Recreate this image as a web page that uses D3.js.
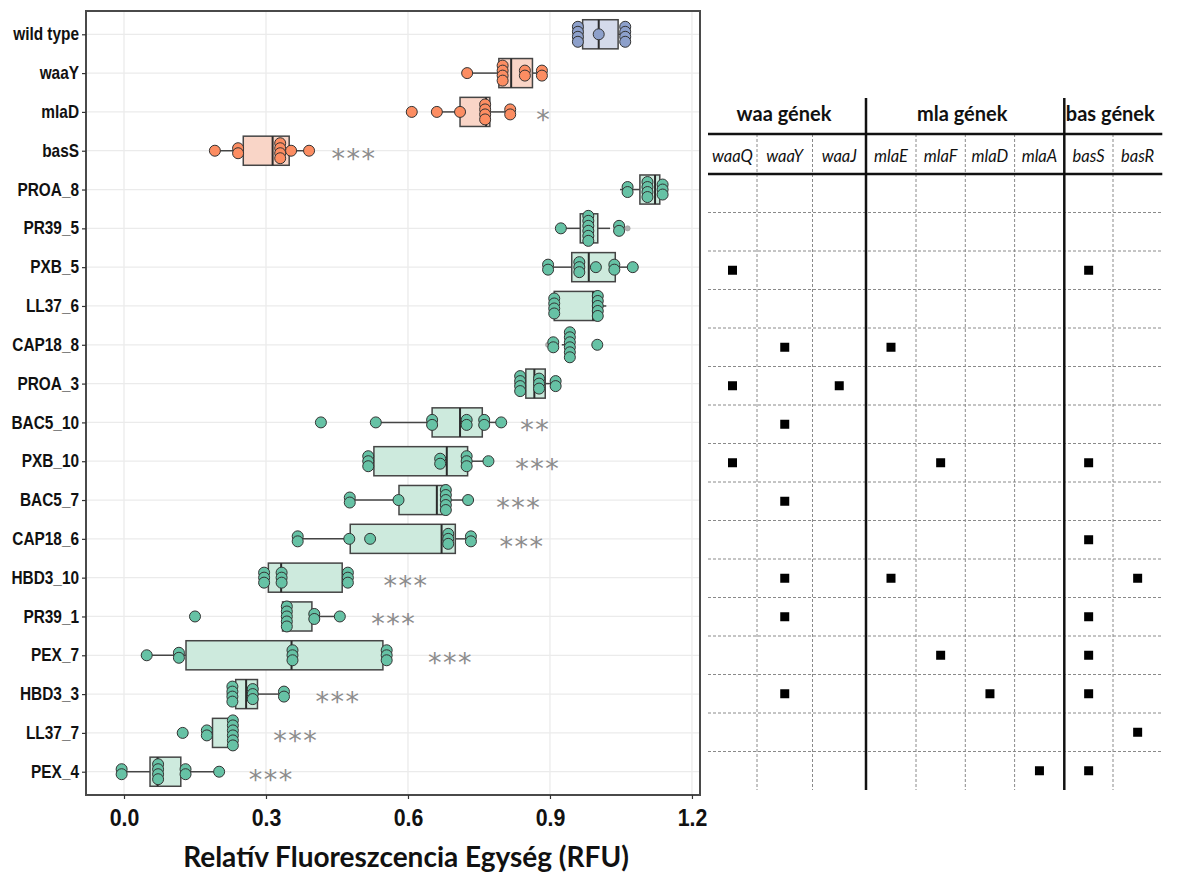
<!DOCTYPE html>
<html>
<head>
<meta charset="utf-8">
<script src="https://cdn.jsdelivr.net/npm/d3@7"></script>
<style>
  body { margin: 0; background: #fff; }
  svg { display: block; }
</style>
</head>
<body>
<div id="chart"></div>
<script>
// adatok (RFU értékek)
const categories = ["wild type", "waaY", "mlaD", "basS", "PROA_8", "PR39_5", "PXB_5", "LL37_6", "CAP18_8", "PROA_3",
  "BAC5_10", "PXB_10", "BAC5_7", "CAP18_6", "HBD3_10", "PR39_1", "PEX_7", "HBD3_3", "LL37_7", "PEX_4"];
const groups = ["wt", "mut", "mut", "mut", "evo", "evo", "evo", "evo", "evo", "evo",
  "evo", "evo", "evo", "evo", "evo", "evo", "evo", "evo", "evo", "evo"];

const q1 =        [0.969, 0.792, 0.710, 0.252, 1.090, 0.964, 0.946, 0.909, 0.938, 0.849, 0.651, 0.528, 0.581, 0.478, 0.305, 0.335, 0.131, 0.236, 0.187, 0.055];
const median =    [1.003, 0.818, 0.765, 0.314, 1.122, 0.978, 0.982, 0.991, 0.942, 0.867, 0.710, 0.682, 0.661, 0.671, 0.332, 0.342, 0.354, 0.258, 0.228, 0.071];
const q3 =        [1.044, 0.863, 0.773, 0.349, 1.132, 1.001, 1.038, 1.000, 0.946, 0.890, 0.757, 0.726, 0.682, 0.700, 0.461, 0.397, 0.547, 0.282, 0.230, 0.120];
const whiskerLo = [0.950, 0.725, 0.661, 0.192, 1.048, 0.923, 0.896, 0.909, 0.925, 0.825, 0.532, 0.528, 0.477, 0.367, 0.305, 0.335, 0.048, 0.217, 0.175, -0.005];
const whiskerHi = [1.068, 0.883, 0.816, 0.391, 1.140, 1.027, 1.075, 1.019, 0.946, 0.912, 0.797, 0.770, 0.727, 0.733, 0.461, 0.456, 0.547, 0.338, 0.241, 0.201];

const points = [
  [0.959, 0.959, 0.959, 0.959, 1.003, 1.059, 1.059, 1.059, 1.059],
  [0.725, 0.800, 0.800, 0.800, 0.800, 0.847, 0.847, 0.883, 0.883],
  [0.608, 0.661, 0.710, 0.763, 0.763, 0.763, 0.763, 0.816, 0.816],
  [0.192, 0.241, 0.241, 0.330, 0.330, 0.330, 0.330, 0.353, 0.391],
  [1.064, 1.064, 1.106, 1.106, 1.106, 1.106, 1.138, 1.138, 1.138],
  [0.923, 0.981, 0.981, 0.981, 0.981, 0.981, 0.981, 1.046, 1.046],
  [0.896, 0.896, 0.962, 0.962, 0.962, 0.997, 1.036, 1.036, 1.075],
  [0.909, 0.909, 0.909, 0.909, 1.001, 1.001, 1.001, 1.001, 1.001],
  [0.907, 0.907, 0.942, 0.942, 0.942, 0.942, 0.942, 0.942, 1.000],
  [0.837, 0.837, 0.837, 0.837, 0.877, 0.877, 0.877, 0.912, 0.912],
  [0.416, 0.532, 0.651, 0.651, 0.724, 0.724, 0.761, 0.761, 0.797],
  [0.516, 0.516, 0.516, 0.668, 0.668, 0.724, 0.724, 0.724, 0.770],
  [0.477, 0.477, 0.580, 0.680, 0.680, 0.680, 0.680, 0.680, 0.727],
  [0.367, 0.367, 0.476, 0.520, 0.685, 0.685, 0.685, 0.733, 0.733],
  [0.296, 0.296, 0.296, 0.333, 0.333, 0.333, 0.473, 0.473, 0.473],
  [0.150, 0.344, 0.344, 0.344, 0.344, 0.344, 0.402, 0.402, 0.456],
  [0.048, 0.116, 0.116, 0.356, 0.356, 0.356, 0.555, 0.555, 0.555],
  [0.229, 0.229, 0.229, 0.229, 0.272, 0.272, 0.272, 0.338, 0.338],
  [0.124, 0.175, 0.175, 0.230, 0.230, 0.230, 0.230, 0.230, 0.230],
  [-0.005, -0.005, 0.072, 0.072, 0.072, 0.072, 0.130, 0.130, 0.201]
];
// boxplot outlierek (kis szürke pontok)
const outliers = [[], [], [], [], [], [1.064], [], [], [0.896], [], [], [], [], [], [], [], [], [], [], []];

// szignifikancia jelölések és helyük RFU-ban
const sigLabels = ["", "", "*", "***", "", "", "", "", "", "", "**", "***", "***", "***", "***", "***", "***", "***", "***", "***"];
const sigPos =    [0, 0, 0.887, 0.486, 0, 0, 0, 0, 0, 0, 0.869, 0.874, 0.834, 0.841, 0.596, 0.570, 0.690, 0.452, 0.363, 0.311];

const xTicks = [0.0, 0.3, 0.6, 0.9, 1.2];
const xTitle = "Relatív Fluoreszcencia Egység (RFU)";

// mutációs táblázat
const geneGroups = ["waa gének", "mla gének", "bas gének"];
const genes = ["waaQ", "waaY", "waaJ", "mlaE", "mlaF", "mlaD", "mlaA", "basS", "basR"];
const geneGroupOf = [0, 0, 0, 1, 1, 1, 1, 2, 2];
const tableRows = categories.slice(4);
const mutations = [
  [], [], ["waaQ", "basS"], [], ["waaY", "mlaE"], ["waaQ", "waaJ"], ["waaY"], ["waaQ", "mlaF", "basS"],
  ["waaY"], ["basS"], ["waaY", "mlaE", "basR"], ["waaY", "basS"], ["mlaF", "basS"], ["waaY", "mlaD", "basS"],
  ["basR"], ["mlaA", "basS"]
];

// elrendezés
const W = 1178, H = 873;
const panel = { left: 86, right: 700, top: 11, bottom: 795 };
const colW = [49, 55.5, 53.5, 50, 49.3, 49.3, 49.7, 48.7, 49.3];
const table = { left: 708, headTop: 98, line1: 134, line2: 174, bottom: 790 };

const fillCol = { wt: "#d4daea", mut: "#f9d5c7", evo: "#cdeadd" };
const dotCol = { wt: "#8da0cb", mut: "#fc8d62", evo: "#66c2a5" };

const svg = d3.select("#chart").append("svg")
  .attr("width", W).attr("height", H);

const x = d3.scaleLinear().domain([-0.0803, 1.217]).range([panel.left, panel.right]);
const y = d3.scalePoint().domain(categories).range([panel.top, panel.bottom]).padding(0.6);
const boxH = y.step() * 0.75;

// rács
svg.append("g").selectAll("line.xg").data(xTicks).enter().append("line")
  .attr("x1", d => x(d)).attr("x2", d => x(d))
  .attr("y1", panel.top).attr("y2", panel.bottom)
  .attr("stroke", "#ebebeb").attr("stroke-width", 1.3);
svg.append("g").selectAll("line.yg").data(categories).enter().append("line")
  .attr("x1", panel.left).attr("x2", panel.right)
  .attr("y1", d => y(d)).attr("y2", d => y(d))
  .attr("stroke", "#ebebeb").attr("stroke-width", 1.3);

// boxplotok
const boxes = svg.append("g").selectAll("g.box").data(categories).enter().append("g");
boxes.append("line")
  .attr("x1", (d, i) => x(whiskerLo[i])).attr("x2", (d, i) => x(q1[i]))
  .attr("y1", d => y(d)).attr("y2", d => y(d))
  .attr("stroke", "#454545").attr("stroke-width", 1.5);
boxes.append("line")
  .attr("x1", (d, i) => x(q3[i])).attr("x2", (d, i) => x(whiskerHi[i]))
  .attr("y1", d => y(d)).attr("y2", d => y(d))
  .attr("stroke", "#454545").attr("stroke-width", 1.5);
boxes.append("rect")
  .attr("x", (d, i) => x(q1[i])).attr("width", (d, i) => Math.max(1, x(q3[i]) - x(q1[i])))
  .attr("y", d => y(d) - boxH / 2).attr("height", boxH)
  .attr("fill", (d, i) => fillCol[groups[i]])
  .attr("stroke", "#454545").attr("stroke-width", 1.5);
boxes.append("line")
  .attr("x1", (d, i) => x(median[i])).attr("x2", (d, i) => x(median[i]))
  .attr("y1", d => y(d) - boxH / 2).attr("y2", d => y(d) + boxH / 2)
  .attr("stroke", "#2b2b2b").attr("stroke-width", 2);

// outlierek
categories.forEach((c, i) => {
  svg.append("g").selectAll("circle").data(outliers[i]).enter().append("circle")
    .attr("cx", d => x(d)).attr("cy", y(c)).attr("r", 2.6)
    .attr("fill", "#b0b0b0").attr("stroke", "#999").attr("stroke-width", 0.6);
});

// pontok (dotplot, középre rakva)
const dotR = 5.5, dotStep = 5;
categories.forEach((c, i) => {
  const stacks = d3.groups(points[i], d => d);
  const g = svg.append("g");
  stacks.forEach(([v, arr]) => {
    const n = arr.length;
    g.selectAll(null).data(arr).enter().append("circle")
      .attr("cx", x(v))
      .attr("cy", (d, k) => y(c) + (k - (n - 1) / 2) * dotStep)
      .attr("r", dotR)
      .attr("fill", dotCol[groups[i]])
      .attr("stroke", "#333").attr("stroke-width", 1);
  });
});

// szignifikancia
svg.append("g").selectAll("text").data(categories).enter().append("text")
  .attr("x", (d, i) => x(sigPos[i])).attr("y", d => y(d) + 17)
  .attr("text-anchor", "middle")
  .attr("font-family", "DejaVu Sans").attr("font-size", 27)
  .attr("letter-spacing", 1.5)
  .attr("fill", "#8c8c8c")
  .text((d, i) => sigLabels[i]);

// panel keret
svg.append("rect")
  .attr("x", panel.left).attr("y", panel.top)
  .attr("width", panel.right - panel.left).attr("height", panel.bottom - panel.top)
  .attr("fill", "none").attr("stroke", "#4a4a4a").attr("stroke-width", 2);

// tengelyek (a feliratok kicsit keskenyítve, mint az eredetin)
const yScaleX = 0.88;
const yAxis = svg.append("g")
  .attr("transform", `translate(${panel.left},0)`)
  .call(d3.axisLeft(y).tickSize(4).tickPadding(3));
yAxis.select(".domain").remove();
yAxis.selectAll("line").attr("stroke", "#333").attr("stroke-width", 1.2);
yAxis.selectAll("text")
  .attr("x", -7 / yScaleX)
  .attr("transform", `scale(${yScaleX},1)`)
  .attr("font-family", "Liberation Sans, Arial, sans-serif").attr("font-weight", "bold")
  .attr("font-size", 17.5).attr("fill", "#111");

const xScaleX = 0.87;
const xAxis = svg.append("g")
  .attr("transform", `translate(0,${panel.bottom})`)
  .call(d3.axisBottom(x).tickValues(xTicks).tickFormat(d3.format(".1f")).tickSize(4).tickPadding(10));
xAxis.select(".domain").remove();
xAxis.selectAll("line").attr("stroke", "#333").attr("stroke-width", 1.2);
xAxis.selectAll("text")
  .attr("transform", `scale(${xScaleX},1)`)
  .attr("font-family", "Liberation Sans, Arial, sans-serif").attr("font-weight", "bold")
  .attr("font-size", 24.5).attr("fill", "#111");

svg.append("text")
  .attr("x", 406).attr("y", 867)
  .attr("text-anchor", "middle")
  .attr("font-family", "Lato, sans-serif").attr("font-weight", "bold")
  .attr("font-size", 28).attr("fill", "#111")
  .text(xTitle);

// táblázat
const colX = [table.left];
colW.forEach(w => colX.push(colX[colX.length - 1] + w));
const tableRight = colX[colX.length - 1];
const ty = d3.scaleBand().domain(tableRows).range([table.line2, table.bottom]);

const tg = svg.append("g");
// szaggatott vízszintes vonalak a sorok között
tg.selectAll("line.h").data(tableRows.slice(1)).enter().append("line")
  .attr("x1", table.left).attr("x2", tableRight)
  .attr("y1", d => ty(d)).attr("y2", d => ty(d))
  .attr("stroke", "#8a8a8a").attr("stroke-width", 1).attr("stroke-dasharray", "3,2");
// szaggatott függőleges vonalak
const inner = genes.map((g, j) => j).filter(j => j > 0 && geneGroupOf[j] === geneGroupOf[j - 1]);
tg.selectAll("line.v").data(inner).enter().append("line")
  .attr("x1", j => colX[j]).attr("x2", j => colX[j])
  .attr("y1", table.line1).attr("y2", table.bottom)
  .attr("stroke", "#8a8a8a").attr("stroke-width", 1).attr("stroke-dasharray", "3,2");
// csoporthatárok
const groupBreaks = genes.map((g, j) => j).filter(j => j > 0 && geneGroupOf[j] !== geneGroupOf[j - 1]);
tg.selectAll("line.g").data(groupBreaks).enter().append("line")
  .attr("x1", j => colX[j]).attr("x2", j => colX[j])
  .attr("y1", table.headTop).attr("y2", table.bottom)
  .attr("stroke", "#111").attr("stroke-width", 2.5);
tg.selectAll("line.s").data([table.line1, table.line2]).enter().append("line")
  .attr("x1", table.left).attr("x2", tableRight)
  .attr("y1", d => d).attr("y2", d => d)
  .attr("stroke", "#111").attr("stroke-width", 2.5);

// fejlécek
tg.selectAll("text.grp").data(geneGroups).enter().append("text")
  .attr("x", (d, k) => {
    const cols = d3.range(genes.length).filter(j => geneGroupOf[j] === k);
    return (colX[cols[0]] + colX[cols[cols.length - 1] + 1]) / 2 - 3;
  })
  .attr("y", 121)
  .attr("text-anchor", "middle")
  .attr("font-family", "Lato, sans-serif").attr("font-weight", "bold")
  .attr("font-size", 20).attr("fill", "#111")
  .text(d => d);
tg.selectAll("text.gene").data(genes).enter().append("text")
  .attr("x", (d, j) => (colX[j] + colX[j + 1]) / 2)
  .attr("y", 162)
  .attr("text-anchor", "middle")
  .attr("font-family", "Lato, sans-serif").attr("font-style", "italic")
  .attr("font-size", 16.5).attr("fill", "#111")
  .text(d => d);

// mutációk jelölése
const marks = [];
tableRows.forEach((r, i) => mutations[i].forEach(g => marks.push({ row: r, col: genes.indexOf(g) })));
tg.selectAll("rect.m").data(marks).enter().append("rect")
  .attr("x", d => (colX[d.col] + colX[d.col + 1]) / 2 - 4.5)
  .attr("y", d => ty(d.row) + ty.bandwidth() / 2 - 4.5)
  .attr("width", 9).attr("height", 9)
  .attr("fill", "#000");
</script>
</body>
</html>
